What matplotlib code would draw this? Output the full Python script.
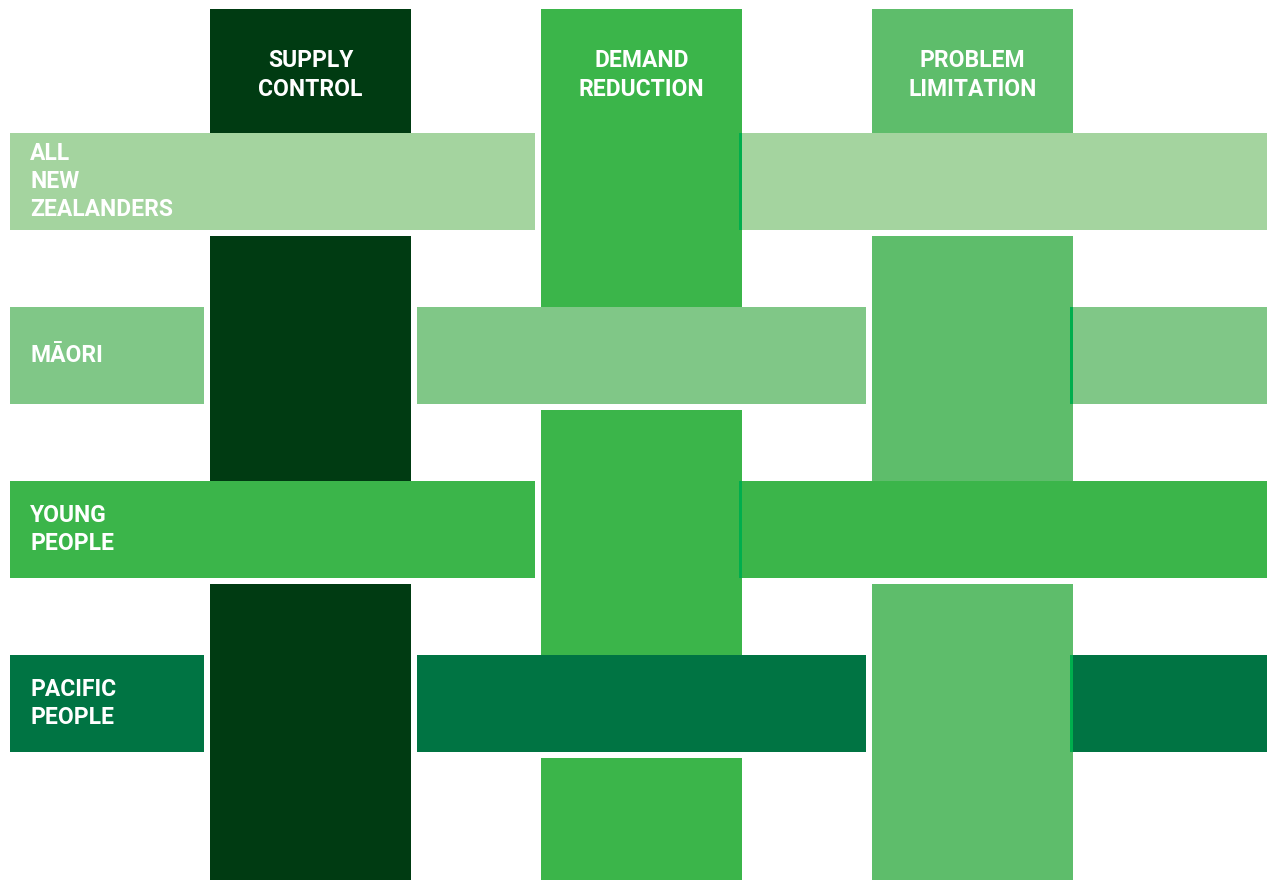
import matplotlib
matplotlib.use('Agg')
import matplotlib.pyplot as plt
from matplotlib.patches import Rectangle

# pillars (columns) and population groups (rows)
col_labels = ['SUPPLY\nCONTROL', 'DEMAND\nREDUCTION', 'PROBLEM\nLIMITATION']
col_colors = ['#003B12', '#3BB54A', '#5EBD6B']
row_labels = ['ALL\nNEW\nZEALANDERS', 'MĀORI', 'YOUNG\nPEOPLE', 'PACIFIC\nPEOPLE']
row_colors = ['#A4D49F', '#80C787', '#3BB54A', '#007443']

W, H = 1267, 883
fig = plt.figure(figsize=(W / 100, H / 100), dpi=100)
ax = fig.add_axes([0, 0, 1, 1])
ax.set_xlim(0, W)
ax.set_ylim(H, 0)
ax.axis('off')

plt.rcParams['font.family'] = ['Roboto', 'DejaVu Sans']

# layout in pixels
col_x0, col_w, col_pitch = 210, 201, 331
col_top, col_bot = 9, 880
row_y0, row_h, row_pitch = 133, 97, 174
row_left, row_right = 10, W
gap = 6                # white gap left after a strip that goes on top
tucks = [-6, 3, 3]     # how far rows slip back under each column (negative = gap)


def row_over(i, j):
    # woven pattern: alternate which strip is on top
    return (i + j) % 2 == 0


# columns, cut where a row passes over them
for j, c in enumerate(col_colors):
    x = col_x0 + j * col_pitch
    y = col_top
    for i in range(len(row_labels)):
        if row_over(i, j):
            ry = row_y0 + i * row_pitch
            ax.add_patch(Rectangle((x, y), col_w, ry - y, fc=c, ec='none'))
            y = ry + row_h + gap
    ax.add_patch(Rectangle((x, y), col_w, col_bot - y, fc=c, ec='none'))
    ax.text(x + col_w / 2, 75, col_labels[j], color='white', fontsize=16.5,
            fontweight='bold', ha='center', va='center', linespacing=1.3)

# rows, cut where a column passes over them
for i, c in enumerate(row_colors):
    y = row_y0 + i * row_pitch
    x = row_left
    for j in range(len(col_labels)):
        if not row_over(i, j):
            cx = col_x0 + j * col_pitch
            ax.add_patch(Rectangle((x, y), cx - gap - x, row_h, fc=c, ec='none'))
            x = cx + col_w - tucks[j]
            if tucks[j] > 0:
                # thin edge where the row tucks under the column
                ax.add_patch(Rectangle((x, y), tucks[j], row_h, fc='#00AE4D',
                                       ec='none', zorder=3))
    ax.add_patch(Rectangle((x, y), row_right - x, row_h, fc=c, ec='none'))
    ax.text(30, y + row_h / 2, row_labels[i], color='white', fontsize=16.5,
            fontweight='bold', ha='left', va='center', linespacing=1.3)

plt.savefig('out.png', dpi=100, facecolor='white')
